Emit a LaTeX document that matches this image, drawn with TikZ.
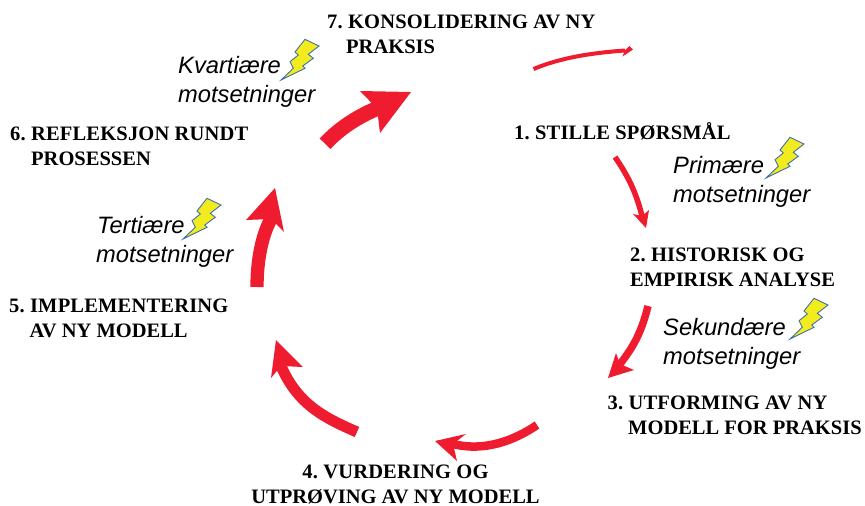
\documentclass[tikz,border=0pt]{standalone}
\usepackage{fontspec}
\setmainfont{Liberation Serif}
\setsansfont{Liberation Sans}
\definecolor{arrowred}{HTML}{EE1C2E}
\definecolor{boltyellow}{HTML}{F2EC1E}
\definecolor{boltblue}{HTML}{3F6FA8}
\newcommand{\firstline}{\rule{0pt}{15pt}}
\newcommand{\firstlineb}{\rule{0pt}{17pt}}
\newcommand{\numline}[1]{{\frenchspacing\addfontfeature{LetterSpace=0.9}#1}}
\tikzset{
  x=1pt,y=-1pt,
  stage/.style={font=\fontsize{20.5}{25}\selectfont\bfseries,align=left,inner sep=0pt,anchor=north west},
  stagec/.style={stage,align=center,anchor=north},
  contra/.style={font=\fontsize{23.7}{29}\selectfont\sffamily\itshape,align=left,inner sep=0pt,anchor=north west},
  shaft/.style={draw=arrowred,line cap=butt},
  head/.style={fill=arrowred,draw=none},
  boltshape/.style={fill=boltyellow,draw=boltblue,line width=0.9pt,line join=miter},
}
\newcommand{\boltat}[1]{\path[boltshape,shift={(#1)}] (0,0)--(12.3,-11.7)--(9,-18.3)--(17.3,-25)--(14,-28)--(24,-40.7)--(38,-34)--(27.3,-25.7)--(32.3,-21.7)--(21.7,-14)--(24,-11.7)--cycle;}
\begin{document}
\begin{tikzpicture}
\useasboundingbox (0,0) rectangle (865,506);
% stages
\node[stage] (s7) at (327,13) {\firstline\numline{7. KONSOLIDERING AV NY}\\\hspace*{19pt}PRAKSIS};
\node[stage] (s1) at (514,122) {\firstline\numline{1. STILLE SPØRSMÅL}};
\node[stage] (s2) at (630,246) {\firstline\numline{2. HISTORISK OG}\\EMPIRISK ANALYSE};
\node[stage] (s3) at (607.5,394) {\firstline\numline{3. UTFORMING AV NY}\\\hspace*{20.5pt}MODELL FOR PRAKSIS};
\node[stagec] (s4) at (395.5,463.5) {\firstline\numline{4. VURDERING OG}\\UTPRØVING AV NY MODELL};
\node[stage] (s5) at (9,297) {\firstline\numline{5. IMPLEMENTERING}\\\hspace*{20.5pt}AV NY MODELL};
\node[stage] (s6) at (10,125) {\firstline\numline{6. REFLEKSJON RUNDT}\\\hspace*{21pt}PROSESSEN};
% contradictions
\node[contra] (c1) at (673,156) {\firstlineb Primære\\motsetninger};
\node[contra] (c2) at (663,318) {\firstlineb Sekundære\\motsetninger};
\node[contra] (c3) at (97,216) {\firstlineb Tertiære\\\hspace*{-1pt}motsetninger};
\node[contra] (c4) at (178,56) {\firstlineb Kvartiære\\motsetninger};
% bolts
\boltat{766,178}
\boltat{790,339}
\boltat{183,239}
\boltat{281,80}
% arrow end points
\coordinate (a0s) at (533.5,69);  \coordinate (a0n) at (625,50.5);
\coordinate (a0t) at (633,49.5);  \coordinate (a0a) at (629.3,46); \coordinate (a0b) at (622.3,56.7);
\coordinate (a1s) at (615,157);   \coordinate (a1n) at (642,216);
\coordinate (a1t) at (646,228);   \coordinate (a1a) at (649,210);  \coordinate (a1b) at (633,214);
\coordinate (a2s) at (648,306);   \coordinate (a2n) at (620,364);
\coordinate (a2t) at (608,378);   \coordinate (a2a) at (634,370);  \coordinate (a2b) at (616,353);
\coordinate (a3s) at (537,425);   \coordinate (a3n) at (453,444);
\coordinate (a3t) at (435,441);   \coordinate (a3a) at (466,434);  \coordinate (a3b) at (457,461);
\coordinate (a4s) at (357,432);   \coordinate (a4n) at (281,366);
\coordinate (a4t) at (276,340);   \coordinate (a4a) at (303,367);  \coordinate (a4b) at (271,378);
\coordinate (a5s) at (257,287);   \coordinate (a5n) at (271,219);
\coordinate (a5t) at (275,188);   \coordinate (a5a) at (246,220);  \coordinate (a5b) at (284,232);
\coordinate (a6s) at (325,143.7); \coordinate (a6n) at (377,108.5);
\coordinate (a6t) at (411,92);    \coordinate (a6a) at (360,91);   \coordinate (a6b) at (380,133);
% arrows
\draw[shaft,line width=4pt] (a0s) .. controls (560,58) and (590,53) .. (a0n);
\fill[head] (a0t)--(a0a)--(a0n)--(a0b)--cycle;
\draw[shaft,line width=5.5pt] (a1s) .. controls (628,176) and (636,192) .. (a1n);
\fill[head] (a1t)--(a1a)--(a1n)--(a1b)--cycle;
\draw[shaft,line width=7.5pt] (a2s) .. controls (642,330) and (635,345) .. (a2n);
\fill[head] (a2t)--(a2a)--(a2n)--(a2b)--cycle;
\draw[shaft,line width=8.5pt] (a3s) .. controls (515,440) and (485,452) .. (a3n);
\fill[head] (a3t)--(a3a)--(a3n)--(a3b)--cycle;
\draw[shaft,line width=11pt] (a4s) .. controls (325,418) and (298,405) .. (a4n);
\fill[head] (a4t)--(a4a)--(a4n)--(a4b)--cycle;
\draw[shaft,line width=13.3pt] (a5s) .. controls (257,260) and (262,235) .. (a5n);
\fill[head] (a5t)--(a5a)--(a5n)--(a5b)--cycle;
\draw[shaft,line width=15pt] (a6s) .. controls (340,128) and (357,117) .. (a6n);
\fill[head] (a6t)--(a6a)--(a6n)--(a6b)--cycle;
\end{tikzpicture}
\end{document}
